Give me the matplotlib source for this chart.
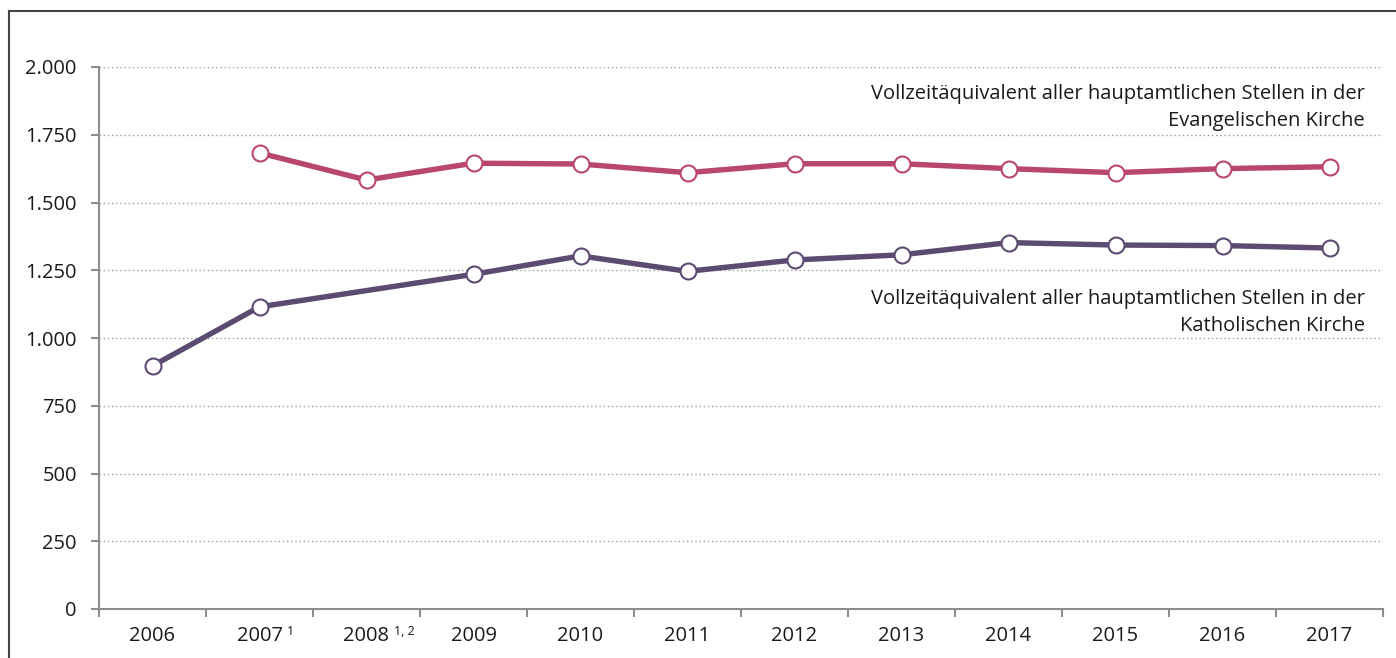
import matplotlib
matplotlib.use("Agg")
import matplotlib.pyplot as plt
from matplotlib.ticker import FuncFormatter, FixedLocator
from matplotlib.lines import Line2D
import numpy as np

plt.rcParams['font.family'] = ['Open Sans', 'DejaVu Sans']

years = ["2006", "2007", "2008", "2009", "2010", "2011", "2012", "2013", "2014", "2015", "2016", "2017"]
footnotes = ["", "1", "1, 2", "", "", "", "", "", "", "", "", ""]
evangelisch = [None, 1683, 1583, 1645, 1642, 1610, 1643, 1643, 1625, 1610, 1625, 1632]
katholisch = [897, 1115, None, 1235, 1303, 1246, 1288, 1307, 1352, 1343, 1341, 1332]
label_ev = "Vollzeitäquivalent aller hauptamtlichen Stellen in der\nEvangelischen Kirche"
label_kat = "Vollzeitäquivalent aller hauptamtlichen Stellen in der\nKatholischen Kirche"
yticks = [0, 250, 500, 750, 1000, 1250, 1500, 1750, 2000]

col_ev = "#b8466f"
col_kat = "#5b4b70"

fig = plt.figure(figsize=(13.96, 6.58), dpi=100)
W, H = 1396, 658
ax = fig.add_axes([99 / W, 49 / H, (1383 - 99) / W, (609 - 67) / H])

def series(vals):
    xs = [i for i, v in enumerate(vals) if v is not None]
    ys = [v for v in vals if v is not None]
    return xs, ys

for vals, col in [(evangelisch, col_ev), (katholisch, col_kat)]:
    xs, ys = series(vals)
    ax.plot(xs, ys, color=col, lw=3.9, marker='o', ms=11.5, mfc='white',
            mec=col, mew=1.5, solid_capstyle='butt', zorder=3)

ax.set_xlim(-0.5, len(years) - 0.5)
ax.set_ylim(0, 2000)

ax.yaxis.set_major_locator(FixedLocator(yticks))
ax.yaxis.set_major_formatter(FuncFormatter(lambda v, p: f"{int(v):,}".replace(",", ".")))
ax.grid(axis='y', color='#9a9a9a', lw=1.0, linestyle=(0, (1, 2)))
ax.set_axisbelow(True)

# category boundaries as major ticks, labels on minor ticks
ax.xaxis.set_major_locator(FixedLocator(np.arange(-0.5, len(years), 1.0)))
ax.xaxis.set_minor_locator(FixedLocator(np.arange(len(years))))
ax.xaxis.set_major_formatter(FuncFormatter(lambda v, p: ""))
ax.set_xticks(np.arange(len(years)), years, minor=True)
ax.tick_params(axis='x', which='major', length=6, width=1.5, color='#8c8c8c', direction='out')
ax.tick_params(axis='x', which='minor', length=0, pad=12, labelsize=14.5, labelcolor='#1a1a1a')
ax.tick_params(axis='y', length=6, width=1.5, color='#8c8c8c', pad=10, labelsize=14.5, labelcolor='#1a1a1a')

for i, fn in enumerate(footnotes):
    if fn:
        ax.annotate(fn, xy=(i, 0), xycoords=('data', 'axes fraction'),
                    xytext=(20, -19), textcoords='offset points',
                    ha='left', va='baseline', fontsize=9, color='#1a1a1a')

for s in ['top', 'right']:
    ax.spines[s].set_visible(False)
for s in ['left', 'bottom']:
    ax.spines[s].set_color('#8c8c8c')
    ax.spines[s].set_linewidth(1.5)

ax.text(11.33, 1850, label_ev, ha='right', va='center', multialignment='right',
        fontsize=14.5, color='#1a1a1a', linespacing=1.45)
ax.text(11.33, 1094, label_kat, ha='right', va='center', multialignment='right',
        fontsize=14.5, color='#1a1a1a', linespacing=1.45)

# outer frame lines
fig.add_artist(Line2D([9 / W, 1.0], [1 - 11 / H, 1 - 11 / H], transform=fig.transFigure,
                      color='#444444', lw=1.5))
fig.add_artist(Line2D([9 / W, 9 / W], [0, 1 - 11 / H], transform=fig.transFigure,
                      color='#444444', lw=1.5))

fig.savefig("out.png", dpi=100)
